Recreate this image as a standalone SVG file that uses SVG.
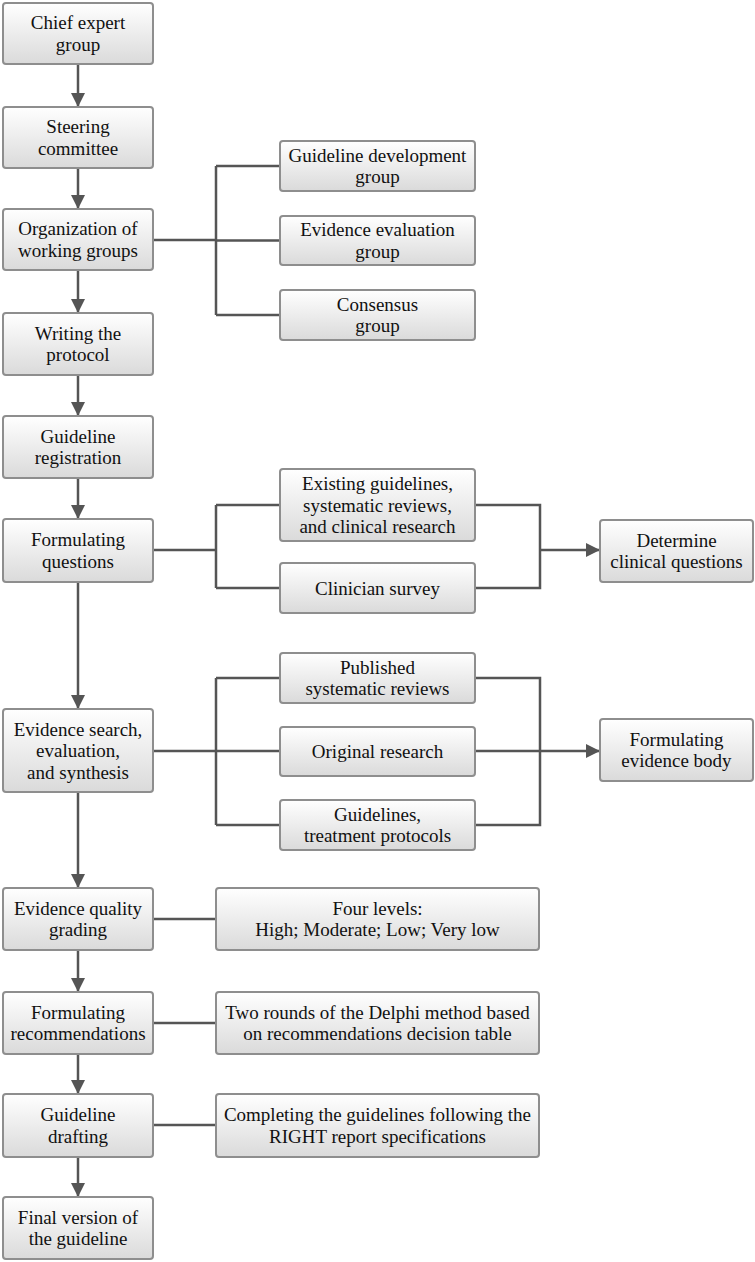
<svg xmlns="http://www.w3.org/2000/svg" width="755" height="1262" viewBox="0 0 755 1262">
<defs>
<linearGradient id="g" x1="0" y1="0" x2="0" y2="1">
<stop offset="0" stop-color="#ffffff"/>
<stop offset="1" stop-color="#dadada"/>
</linearGradient>
<marker id="ah" markerUnits="userSpaceOnUse" markerWidth="14" markerHeight="14" viewBox="0 0 14 14" refX="14" refY="7" orient="auto">
<path d="M0,0 L14,7 L0,14 z" fill="#555555"/>
</marker>
<style>
.box{fill:url(#g);stroke:#8e8e8e;stroke-width:2}
.c{fill:none;stroke:#555555;stroke-width:2.5}
.t{font-family:'Liberation Serif','Times New Roman',serif;font-size:19px;fill:#111111;text-anchor:middle}
</style>
</defs>
<rect width="755" height="1262" fill="#ffffff"/>

<g id="connectors">
<path class="c" d="M78,64 V107" marker-end="url(#ah)"/>
<path class="c" d="M78,168 V209" marker-end="url(#ah)"/>
<path class="c" d="M78,270 V313" marker-end="url(#ah)"/>
<path class="c" d="M78,375 V416" marker-end="url(#ah)"/>
<path class="c" d="M78,478 V519" marker-end="url(#ah)"/>
<path class="c" d="M78,582 V709" marker-end="url(#ah)"/>
<path class="c" d="M78,792 V888" marker-end="url(#ah)"/>
<path class="c" d="M78,950 V992" marker-end="url(#ah)"/>
<path class="c" d="M78,1054 V1094" marker-end="url(#ah)"/>
<path class="c" d="M78,1157 V1197" marker-end="url(#ah)"/>
<path class="c" d="M153,240 H216 M216,166 V315 M216,166 H280 M216,240.5 H280 M216,315 H280"/>
<path class="c" d="M153,550 H216 M216,505 V588 M216,505 H280 M216,588 H280 M475,505 H540 V588 H475"/>
<path class="c" d="M540,550 H600" marker-end="url(#ah)"/>
<path class="c" d="M153,751 H216 M216,678 V825 M216,678 H280 M216,751 H280 M216,825 H280 M475,678 H540 V825 H475"/>
<path class="c" d="M475,751 H600" marker-end="url(#ah)"/>
<path class="c" d="M153,919 H216 M153,1023 H216 M153,1125 H216"/>
</g>

<g id="chief"><rect class="box" x="3" y="3" width="150" height="61" rx="3"/><text class="t" x="78" y="29.3">Chief expert</text><text class="t" x="78" y="50.8">group</text></g>
<g id="steering"><rect class="box" x="3" y="107" width="150" height="61" rx="3"/><text class="t" x="78" y="133.3">Steering</text><text class="t" x="78" y="154.8">committee</text></g>
<g id="org"><rect class="box" x="3" y="209" width="150" height="61" rx="3"/><text class="t" x="78" y="235.3">Organization of</text><text class="t" x="78" y="256.8">working groups</text></g>
<g id="protocol"><rect class="box" x="3" y="313" width="150" height="62" rx="3"/><text class="t" x="78" y="339.8">Writing the</text><text class="t" x="78" y="361.3">protocol</text></g>
<g id="registration"><rect class="box" x="3" y="416" width="150" height="62" rx="3"/><text class="t" x="78" y="442.8">Guideline</text><text class="t" x="78" y="464.3">registration</text></g>
<g id="formq"><rect class="box" x="3" y="519" width="150" height="63" rx="3"/><text class="t" x="78" y="546.3">Formulating</text><text class="t" x="78" y="567.8">questions</text></g>
<g id="evsearch"><rect class="box" x="3" y="709" width="150" height="83" rx="3"/><text class="t" x="78" y="735.5">Evidence search,</text><text class="t" x="78" y="757">evaluation,</text><text class="t" x="78" y="778.5">and synthesis</text></g>
<g id="quality"><rect class="box" x="3" y="888" width="150" height="62" rx="3"/><text class="t" x="78" y="914.8">Evidence quality</text><text class="t" x="78" y="936.3">grading</text></g>
<g id="recs"><rect class="box" x="3" y="992" width="150" height="62" rx="3"/><text class="t" x="78" y="1018.8">Formulating</text><text class="t" x="78" y="1040.3">recommendations</text></g>
<g id="drafting"><rect class="box" x="3" y="1094" width="150" height="63" rx="3"/><text class="t" x="78" y="1121.3">Guideline</text><text class="t" x="78" y="1142.8">drafting</text></g>
<g id="final"><rect class="box" x="3" y="1197" width="150" height="62" rx="3"/><text class="t" x="78" y="1223.8">Final version of</text><text class="t" x="78" y="1245.3">the guideline</text></g>

<g id="gdg"><rect class="box" x="280" y="141" width="195" height="50" rx="3"/><text class="t" x="377.5" y="161.8">Guideline development</text><text class="t" x="377.5" y="183.3">group</text></g>
<g id="eeg"><rect class="box" x="280" y="216" width="195" height="49" rx="3"/><text class="t" x="377.5" y="236.3">Evidence evaluation</text><text class="t" x="377.5" y="257.8">group</text></g>
<g id="cg"><rect class="box" x="280" y="290" width="195" height="50" rx="3"/><text class="t" x="377.5" y="310.8">Consensus</text><text class="t" x="377.5" y="332.3">group</text></g>

<g id="existing"><rect class="box" x="280" y="469" width="195" height="72" rx="3"/><text class="t" x="377.5" y="490">Existing guidelines,</text><text class="t" x="377.5" y="511.5">systematic reviews,</text><text class="t" x="377.5" y="533">and clinical research</text></g>
<g id="clinician"><rect class="box" x="280" y="563" width="195" height="50" rx="3"/><text class="t" x="377.5" y="594.5">Clinician survey</text></g>
<g id="determine"><rect class="box" x="600" y="520" width="153" height="62" rx="3"/><text class="t" x="676.5" y="546.8">Determine</text><text class="t" x="676.5" y="568.3">clinical questions</text></g>

<g id="published"><rect class="box" x="280" y="653" width="195" height="50" rx="3"/><text class="t" x="377.5" y="673.8">Published</text><text class="t" x="377.5" y="695.3">systematic reviews</text></g>
<g id="original"><rect class="box" x="280" y="727" width="195" height="49" rx="3"/><text class="t" x="377.5" y="758">Original research</text></g>
<g id="guidelines"><rect class="box" x="280" y="800" width="195" height="50" rx="3"/><text class="t" x="377.5" y="820.8">Guidelines,</text><text class="t" x="377.5" y="842.3">treatment protocols</text></g>
<g id="body"><rect class="box" x="600" y="719" width="153" height="62" rx="3"/><text class="t" x="676.5" y="745.8">Formulating</text><text class="t" x="676.5" y="767.3">evidence body</text></g>

<g id="four"><rect class="box" x="216" y="888" width="323" height="62" rx="3"/><text class="t" x="377.5" y="914.8">Four levels:</text><text class="t" x="377.5" y="936.3">High; Moderate; Low; Very low</text></g>
<g id="tworounds"><rect class="box" x="216" y="992" width="323" height="62" rx="3"/><text class="t" x="377.5" y="1018.8">Two rounds of the Delphi method based</text><text class="t" x="377.5" y="1040.3">on recommendations decision table</text></g>
<g id="completing"><rect class="box" x="216" y="1094" width="323" height="63" rx="3"/><text class="t" x="377.5" y="1121.3">Completing the guidelines following the</text><text class="t" x="377.5" y="1142.8">RIGHT report specifications</text></g>
</svg>
